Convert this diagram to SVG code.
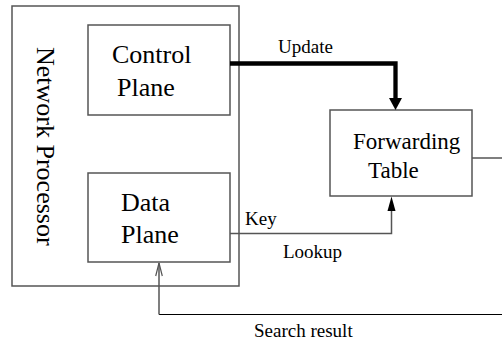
<svg xmlns="http://www.w3.org/2000/svg" width="502" height="342" viewBox="0 0 502 342">
<style>
.box{fill:#fff;stroke:#555;stroke-width:1.5}
text{font-family:'Liberation Serif','DejaVu Serif',serif;fill:#000}
.big{font-size:26px}
.mid{font-size:23px}
.lbl{font-size:19px}
.thin{fill:none;stroke:#555;stroke-width:1.5}
</style>
<g id="network-processor">
<rect class="box" x="12" y="6" width="227" height="280"/>
<text class="big" font-family="Liberation Serif, DejaVu Serif, serif" transform="translate(37,47) rotate(90)">Network Processor</text>
</g>
<g id="control-plane">
<rect class="box" x="88" y="25" width="142" height="90"/>
<text class="big" font-family="Liberation Serif, DejaVu Serif, serif" x="112" y="63">Control</text>
<text class="big" font-family="Liberation Serif, DejaVu Serif, serif" x="117" y="96">Plane</text>
</g>
<g id="data-plane">
<rect class="box" x="88" y="173" width="142" height="89"/>
<text class="big" font-family="Liberation Serif, DejaVu Serif, serif" x="121" y="211">Data</text>
<text class="big" font-family="Liberation Serif, DejaVu Serif, serif" x="121" y="243">Plane</text>
</g>
<g id="forwarding-table">
<rect class="box" x="330" y="110" width="142" height="86"/>
<text class="mid" font-family="Liberation Serif, DejaVu Serif, serif" x="353" y="149">Forwarding</text>
<text class="mid" font-family="Liberation Serif, DejaVu Serif, serif" x="368" y="178">Table</text>
</g>
<g id="connectors">
<polyline points="230,63.5 395.5,63.5 395.5,99" fill="none" stroke="#000" stroke-width="4.3"/>
<polygon points="389,98 402,98 395.5,110" fill="#000"/>
<polyline class="thin" points="230,233.5 391.5,233.5 391.5,210"/>
<polygon points="387.5,211 395.5,211 391.5,196.5" fill="#000"/>
<line class="thin" x1="472" y1="158" x2="502" y2="158"/>
<line x1="159" y1="314.5" x2="502" y2="314.5" stroke="#000" stroke-width="1"/>
<line class="thin" x1="159" y1="314.5" x2="159" y2="263"/>
<polyline points="155.7,276 159,263 162.3,276" fill="none" stroke="#555" stroke-width="1.2"/>
<text class="lbl" font-family="Liberation Serif, DejaVu Serif, serif" x="278" y="53">Update</text>
<text class="lbl" font-family="Liberation Serif, DejaVu Serif, serif" x="245" y="225">Key</text>
<text class="lbl" font-family="Liberation Serif, DejaVu Serif, serif" x="283" y="258">Lookup</text>
<text class="lbl" font-family="Liberation Serif, DejaVu Serif, serif" x="254" y="337">Search result</text>
</g>
</svg>
